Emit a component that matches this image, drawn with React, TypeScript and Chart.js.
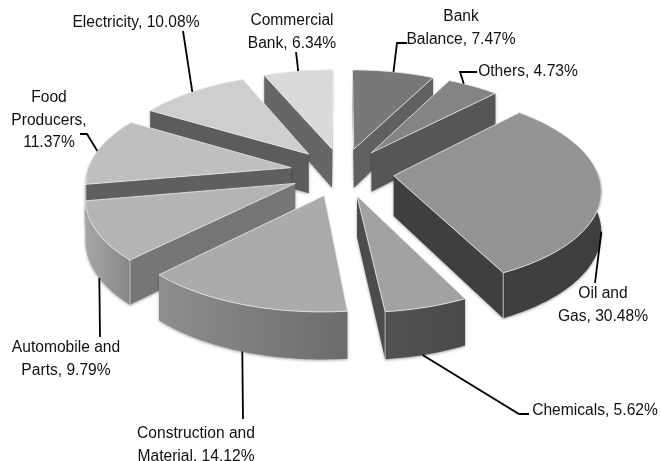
import React, { useEffect, useRef } from "react";
import { Chart, registerables, PieController, ArcElement } from "chart.js";

const categories = ["Bank Balance", "Others", "Oil and Gas", "Chemicals", "Construction and Material", "Automobile and Parts", "Food Producers", "Electricity", "Commercial Bank"];
const shares = [7.47, 4.73, 30.48, 5.62, 14.12, 9.79, 11.37, 10.08, 6.34];
const topColors = ["#787878", "#848484", "#949494", "#a2a2a2", "#ababab", "#b4b4b4", "#bfbfbf", "#cecece", "#dadada"];
const faceColors = ["#606060", "#565656", "#3f3f3f", "#4c4c4c", "#707070", "#767676", "#5f5f5f", "#5c5c5c", "#666666"];
const rimStart = ["#666666", "#5a5a5a", "#3f3f3f", "#525252", "#8e8e8e", "#a6a6a6", "#999999", "#888888", "#777777"];
const rimEnd = ["#666666", "#5a5a5a", "#3e3e3e", "#4a4a4a", "#6c6c6c", "#888888", "#999999", "#888888", "#777777"];
const labelLines = [
  ["Bank", "Balance, 7.47%"],
  ["Others, 4.73%"],
  ["Oil and", "Gas, 30.48%"],
  ["Chemicals, 5.62%"],
  ["Construction and", "Material, 14.12%"],
  ["Automobile and", "Parts, 9.79%"],
  ["Food", "Producers,", "11.37%"],
  ["Electricity, 10.08%"],
  ["Commercial", "Bank, 6.34%"],
];
// label anchor (centre x, first-line middle y), leader elbows and where along the rim the leader starts
const labelPlace = [
  { x: 461, y: 17, along: 0.5, leader: [[397, 43], [407, 43]] },
  { x: 528, y: 72, along: 0.3, leader: [[460, 72], [477, 72]] },
  { x: 603, y: 294, along: 0.5, leader: [[595, 283]] },
  { x: 595, y: 411, along: 0.55, leader: [[519, 414], [529, 414]] },
  { x: 196, y: 434, along: 0.5, leader: [[243, 419]] },
  { x: 66, y: 348, along: 0.45, leader: [[100, 337]] },
  { x: 49, y: 98, along: 0.5, leader: [[87, 134], [80, 134]] },
  { x: 136, y: 23, along: 0.5, leader: [[183, 31]] },
  { x: 292, y: 21, along: 0.5, leader: [[296, 52]] },
];

const RADIUS = 204;
const EXPLODE = 52;
const TILT = 0.465;
const PERSPECTIVE = 0.128;
const DEPTH = 40;
const LINE_HEIGHT = 22.5;

function project(el: any, a: number, r: number, gx: number, gy: number, z: number) {
  const X = gx + Math.cos(a) * r;
  const Y = gy + Math.sin(a) * r;
  const s = 1 / (1 - (PERSPECTIVE * Y) / RADIUS);
  return { x: el.x + X * s, y: el.y + Y * TILT * s + z * DEPTH * s };
}

function ground(el: any) {
  const mid = (el.startAngle + el.endAngle) / 2;
  const off = el.options.offset || 0;
  return { gx: Math.cos(mid) * off, gy: Math.sin(mid) * off, mid };
}

function poly(ctx: CanvasRenderingContext2D, pts: { x: number; y: number }[]) {
  ctx.beginPath();
  pts.forEach((p, i) => (i ? ctx.lineTo(p.x, p.y) : ctx.moveTo(p.x, p.y)));
  ctx.closePath();
}

class Arc3D extends ArcElement {
  static id = "arc3d";
  draw(ctx: CanvasRenderingContext2D, index: number) {
    const a0 = (this as any).startAngle;
    const a1 = (this as any).endAngle;
    const r = (this as any).outerRadius;
    const { gx, gy } = ground(this);
    const P = (a: number, rr: number, z: number) => project(this, a, rr, gx, gy, z);
    const steps = Math.max(6, Math.ceil((a1 - a0) * 40));
    const rim: number[] = [];
    for (let i = 0; i <= steps; i++) rim.push(a0 + ((a1 - a0) * i) / steps);

    ctx.save();
    ctx.shadowColor = "rgba(0,0,0,0.35)";
    ctx.shadowBlur = 3;
    ctx.shadowOffsetY = 1;
    // outer wall, only the part turned towards the viewer
    const front = rim.filter((a) => Math.sin(a) > -0.06);
    if (front.length > 1) {
      const topEdge = front.map((a) => P(a, r, 0));
      const baseEdge = front.map((a) => P(a, r, 1)).reverse();
      const xs = topEdge.map((p) => p.x);
      const g = ctx.createLinearGradient(Math.max(...xs), 0, Math.min(...xs), 0);
      g.addColorStop(0, rimEnd[index]);
      g.addColorStop(1, rimStart[index]);
      ctx.fillStyle = g;
      poly(ctx, [...topEdge, ...baseEdge]);
      ctx.fill();
    }
    // radial walls facing the viewer
    ctx.fillStyle = faceColors[index];
    const faces: [number, number][] = [
      [a0, -Math.cos(a0)],
      [a1, Math.cos(a1)],
    ];
    faces.forEach(([a, ny]) => {
      if (ny <= -0.02) return;
      poly(ctx, [P(a, 0, 0), P(a, r, 0), P(a, r, 1), P(a, 0, 1)]);
      ctx.fill();
    });
    ctx.restore();

    // light seam at the wall corners
    ctx.save();
    ctx.strokeStyle = "rgba(225,225,225,0.75)";
    ctx.lineWidth = 1;
    faces.forEach(([a, ny]) => {
      if (ny <= -0.02 || Math.sin(a) < -0.06) return;
      const p = P(a, r, 0);
      const q = P(a, r, 1);
      ctx.beginPath();
      ctx.moveTo(p.x, p.y);
      ctx.lineTo(q.x, q.y);
      ctx.stroke();
    });
    // top surface
    ctx.fillStyle = (this as any).options.backgroundColor;
    poly(ctx, [P(a0, 0, 0), ...rim.map((a) => P(a, r, 0))]);
    ctx.fill();
    ctx.strokeStyle = "rgba(232,232,232,0.85)";
    ctx.stroke();
    ctx.restore();
  }
}

class Pie3DController extends PieController {
  static id = "pie3d";
  static defaults = { dataElementType: "arc3d" };
  draw() {
    const ctx = (this as any).chart.ctx;
    const arcs = (this as any)._cachedMeta.data;
    // far slices first, so that the near ones overlap them
    const order = arcs.map((_: any, i: number) => i).sort(
      (p: number, q: number) => Math.sin(ground(arcs[p]).mid) - Math.sin(ground(arcs[q]).mid)
    );
    order.forEach((i: number) => arcs[i].draw(ctx, i));
  }
}

const labelsPlugin = {
  id: "sliceLabels",
  afterDatasetsDraw(chart: any) {
    const ctx: CanvasRenderingContext2D = chart.ctx;
    const arcs = chart.getDatasetMeta(0).data;
    ctx.save();
    arcs.forEach((el: any, i: number) => {
      const { gx, gy } = ground(el);
      const place = labelPlace[i];
      const at = el.startAngle + (el.endAngle - el.startAngle) * place.along;
      const start = project(el, at, el.outerRadius, gx, gy, Math.sin(at) > 0 ? 1 : 0);
      ctx.strokeStyle = "#000";
      ctx.lineWidth = 1.8;
      ctx.beginPath();
      ctx.moveTo(start.x, start.y);
      place.leader.forEach(([x, y]) => ctx.lineTo(x, y));
      ctx.stroke();
      ctx.fillStyle = "#111";
      ctx.font = "15.6px 'Liberation Sans'";
      ctx.textAlign = "center";
      ctx.textBaseline = "middle";
      labelLines[i].forEach((line, k) => ctx.fillText(line, place.x, place.y + k * LINE_HEIGHT));
    });
    ctx.restore();
  },
};

Chart.register(...registerables, Arc3D, Pie3DController);

export default function App() {
  const ref = useRef<HTMLCanvasElement>(null);
  useEffect(() => {
    const chart = new Chart(ref.current as HTMLCanvasElement, {
      type: "pie3d" as any,
      data: {
        labels: categories,
        datasets: [
          {
            data: shares,
            backgroundColor: topColors,
            offset: EXPLODE,
            hoverOffset: 0,
            borderWidth: 0,
          } as any,
        ],
      },
      options: {
        animation: false,
        responsive: false,
        radius: RADIUS,
        layout: { padding: { left: 23, bottom: 117 } },
        events: [],
        plugins: { legend: { display: false }, tooltip: { enabled: false } },
      } as any,
      plugins: [labelsPlugin],
    });
    return () => chart.destroy();
  }, []);
  return (
    <div style={{ position: "fixed", left: 0, top: 0, width: 661, height: 461, background: "#fff", overflow: "hidden" }}>
      <canvas ref={ref} width={661} height={461} style={{ display: "block" }} />
    </div>
  );
}
